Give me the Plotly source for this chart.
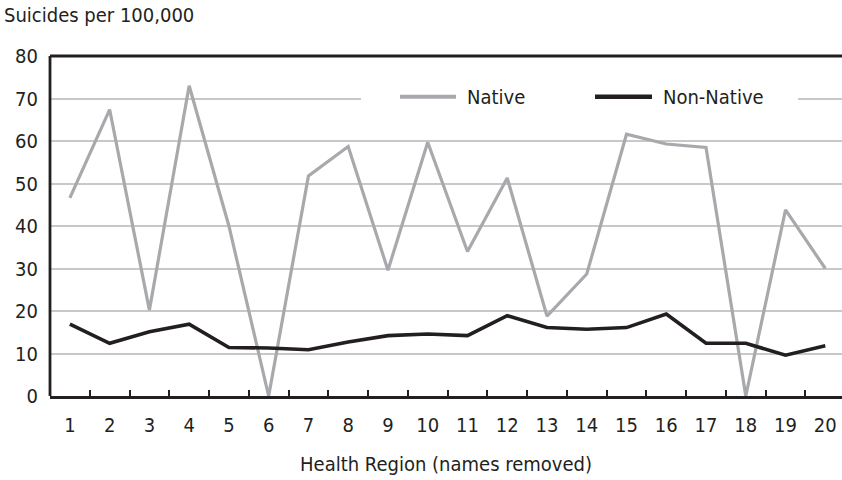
import plotly.graph_objects as go

regions = list(range(1, 21))
native = [46.6, 67.4, 20.2, 73.0, 40.0, 0.0, 51.8, 58.7, 29.6, 59.7,
          34.0, 51.3, 18.8, 28.7, 61.6, 59.3, 58.5, 0.0, 43.8, 30.0]
non_native = [16.9, 12.4, 15.1, 16.9, 11.4, 11.3, 10.9, 12.7, 14.2, 14.6,
              14.2, 18.9, 16.1, 15.7, 16.1, 19.3, 12.4, 12.4, 9.6, 11.8]
y_ticks = [0, 10, 20, 30, 40, 50, 60, 70, 80]

FONT = "Liberation Sans Narrow, DejaVu Sans Condensed, Roboto, sans-serif"
INK = "#231f20"
GREY = "#a7a9ac"
GRID = "#c8c8c8"
FS = 20

W, H = 842, 480
ML, MR, MT, MB = 50, 0, 52, 84
PW, PH = W - ML - MR, H - MT - MB
Y_TOP = 80.0 + 4 * 80.0 / (H - 56 - MB)   # range extends 4px above the 80 line

def px(xpix):
    return (xpix - ML) / PW

def py(ypix):
    return (H - MB - ypix) / PH

fig = go.Figure()
fig.add_trace(go.Scatter(x=regions, y=native, mode="lines", name="Native",
                         line=dict(color=GREY, width=3.2), showlegend=False))
fig.add_trace(go.Scatter(x=regions, y=non_native, mode="lines", name="Non-Native",
                         line=dict(color=INK, width=3.6), showlegend=False))

shapes = [
    # top frame line of the plot area at the 80 level
    dict(type="line", xref="paper", yref="y", x0=0, x1=1, y0=80, y1=80,
         line=dict(color=INK, width=3), layer="above"),
    # legend background and keys
    dict(type="rect", xref="paper", yref="paper", x0=px(361), x1=px(798),
         y0=py(113), y1=py(82), fillcolor="white", line=dict(width=0), layer="above"),
    dict(type="line", xref="paper", yref="paper", x0=px(400), x1=px(456),
         y0=py(96.7), y1=py(96.7), line=dict(color=GREY, width=4), layer="above"),
    dict(type="line", xref="paper", yref="paper", x0=px(595), x1=px(652),
         y0=py(96.7), y1=py(96.7), line=dict(color=INK, width=4.5), layer="above"),
]
annotations = [
    dict(text="Native", xref="paper", yref="paper", x=px(465), y=py(97),
         xanchor="left", yanchor="middle", showarrow=False,
         font=dict(family=FONT, size=FS, color=INK)),
    dict(text="Non-Native", xref="paper", yref="paper", x=px(661), y=py(97),
         xanchor="left", yanchor="middle", showarrow=False,
         font=dict(family=FONT, size=FS, color=INK)),
    dict(text="Suicides per 100,000", xref="paper", yref="paper", x=px(2), y=py(15),
         xanchor="left", yanchor="middle", showarrow=False,
         font=dict(family=FONT, size=FS, color=INK)),
]

fig.update_layout(
    width=W, height=H,
    margin=dict(l=ML, r=MR, t=MT, b=MB, autoexpand=False),
    paper_bgcolor="white", plot_bgcolor="white",
    font=dict(family=FONT, size=FS, color=INK),
    shapes=shapes, annotations=annotations,
    xaxis=dict(range=[0.5, 20.42], tickmode="array", tickvals=regions,
               ticktext=[str(r) for r in regions], ticks="", showgrid=False,
               zeroline=False, showline=True, linecolor=INK, linewidth=2.8,
               ticklabelstandoff=9, automargin=False,
               minor=dict(tickmode="array", tickvals=[r + 0.5 for r in regions[:-1]],
                          ticks="inside", ticklen=6, tickwidth=2, tickcolor=INK,
                          showgrid=False),
               title=dict(text="Health Region (names removed)", standoff=22,
                          font=dict(family=FONT, size=FS, color=INK))),
    yaxis=dict(range=[0, Y_TOP], tickmode="array", tickvals=y_ticks, ticks="",
               showgrid=True, gridcolor=GRID, gridwidth=1.5, zeroline=False,
               showline=False, ticklabelstandoff=11, automargin=False),
)

# left frame line from 0 to 80 only
fig.add_shape(type="line", xref="paper", yref="y", x0=0, x1=0, y0=0, y1=80,
              line=dict(color=INK, width=2.8), layer="above")

fig.write_html("out.html", config={"displayModeBar": False},
               post_script="document.body.style.margin='0';document.body.style.overflow='hidden';")
